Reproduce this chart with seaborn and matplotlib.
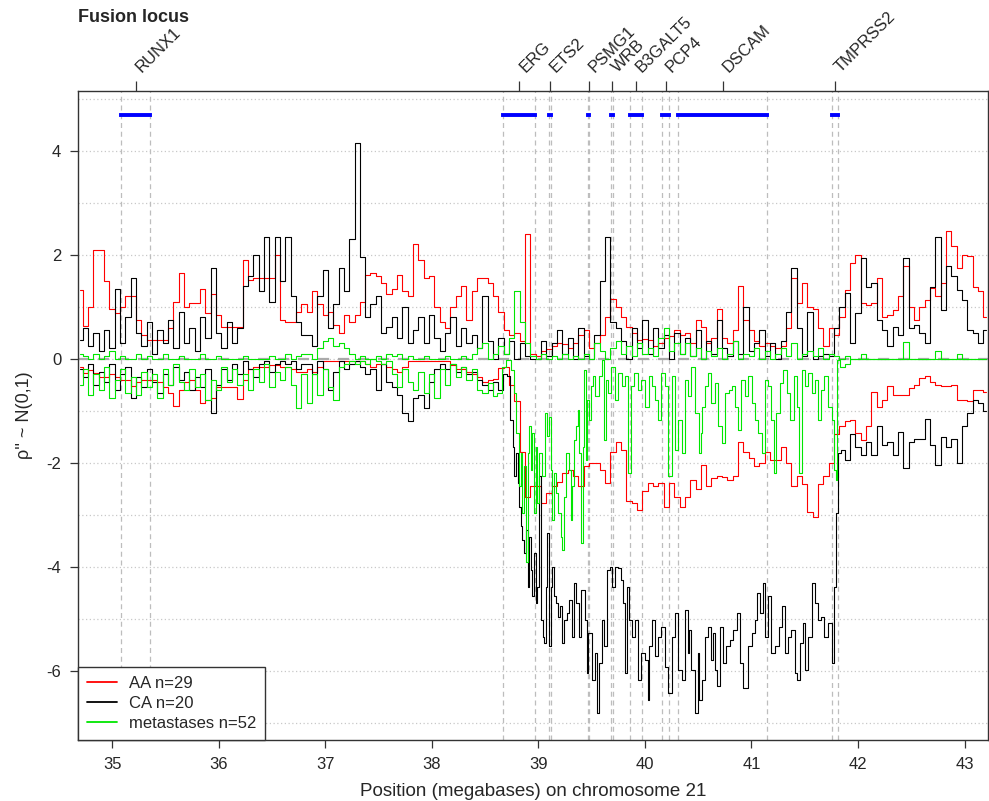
import matplotlib
matplotlib.use("Agg")
import matplotlib.pyplot as plt
import matplotlib.transforms as mtransforms
from matplotlib.lines import Line2D
import seaborn as sns

# Probe positions (Mb, chromosome 21): left flank, fusion region, right flank
left_mb = [
    34.70, 34.75, 34.80, 34.85, 34.90, 34.95, 35.00, 35.05, 35.10, 35.15, 35.20, 35.25, 35.30, 35.35, 35.40,
    35.45, 35.50, 35.55, 35.60, 35.65, 35.70, 35.75, 35.80, 35.85, 35.90, 35.95, 36.00, 36.05, 36.10, 36.15,
    36.20, 36.25, 36.30, 36.35, 36.40, 36.45, 36.50, 36.55, 36.60, 36.65, 36.70, 36.75, 36.80,
    36.85, 36.90, 36.95, 37.00, 37.05, 37.10, 37.15, 37.20, 37.25, 37.30, 37.35, 37.40, 37.45, 37.50, 37.55,
    37.60, 37.65, 37.70, 37.75, 37.80, 37.85, 37.90, 37.95, 38.00, 38.05, 38.10, 38.15, 38.20, 38.25, 38.30,
    38.35, 38.40, 38.45, 38.50,
]
fusion_mb = [
    38.55, 38.60, 38.65, 38.70, 38.75, 38.80, 38.85, 38.90, 38.95, 39.00, 39.05, 39.10, 39.15, 39.20, 39.25,
    39.30, 39.35, 39.40, 39.45, 39.50, 39.55, 39.60, 39.65, 39.70, 39.75, 39.80, 39.85, 39.90, 39.95, 40.00,
    40.05, 40.10, 40.15, 40.20, 40.25, 40.30,
    40.35, 40.40, 40.45, 40.50, 40.55, 40.60, 40.65, 40.70, 40.75, 40.80, 40.85, 40.90, 40.95, 41.00, 41.05,
    41.10, 41.15, 41.20, 41.25, 41.30, 41.35, 41.40, 41.45, 41.50, 41.55, 41.60, 41.65, 41.70, 41.75, 41.80,
]
right_mb = [
    41.85, 41.90, 41.95, 42.00, 42.05, 42.10, 42.15, 42.20, 42.25, 42.30, 42.35, 42.40, 42.45, 42.50, 42.55,
    42.60, 42.65, 42.70, 42.75, 42.80, 42.85, 42.90, 42.95, 43.00, 43.05, 43.10, 43.15, 43.20,
]

# AA tumours: gain and loss traces (on left + fusion + right probes)
aa_gain = [
    1.33, 0.63, 1.0, 2.1, 2.1, 1.5, 0.95, 0.88, 1.0, 1.2, 1.2, 0.75, 0.45, 0.37, 0.37, 0.37, 0.37, 0.6, 1.1,
    1.65, 1.0, 1.08, 1.08, 1.35, 0.88, 1.25, 0.85, 0.62, 0.62, 0.62, 0.62, 1.9, 1.52, 1.55, 1.55, 1.55, 1.55,
    2.0, 0.75, 0.7, 0.7, 0.9, 1.05,
    0.9, 1.3, 1.05, 0.85, 0.9, 0.65, 0.5, 0.85, 0.7, 0.85, 1.1, 1.62, 1.65, 1.6, 1.45, 1.25, 1.35, 1.62, 1.3,
    1.2, 2.2, 1.9, 1.55, 1.6, 1.0, 0.7, 0.6, 1.0, 1.2, 1.4, 0.75, 1.3, 1.55, 1.55,
    1.45, 1.2, 0.9, 0.56, 0.45, 0.5, 0.35, 2.4, 0.1, 0.05, 0.15, 0.18, 0.25, 0.3, 0.28, 0.2, 0.3, 0.45, 0.55,
    0.2, 0.3, 0.45, 0.8, 1.15, 1.0, 0.8, 0.62, 0.5, 0.37, 0.38, 0.37, 0.24, 0.3, 0.4, 0.43, 0.55,
    0.45, 0.5, 0.3, 0.75, 0.62, 0.3, 0.4, 0.95, 0.4, 0.3, 0.55, 1.4, 0.75, 0.55, 0.35, 0.24, 0.3, 0.24, 0.2,
    0.24, 0.6, 1.55, 1.07, 1.45, 1.0, 0.95, 0.6, 0.24, 0.6, 0.45,
    0.81, 1.33, 1.84, 2.0, 1.07, 1.04, 1.07, 1.55, 0.81, 0.85, 0.94, 1.2, 1.78, 1.0, 0.75, 1.0, 1.13, 1.36,
    1.2, 1.46, 2.45, 2.16, 1.74, 2.0, 1.97, 1.39, 1.3, 0.81,
]
aa_loss = [
    -0.15, -0.28, -0.22, -0.28, -0.35, -0.35, -0.3, -0.35, -0.4, -0.4, -0.53, -0.45, -0.4, -0.4, -0.4, -0.45,
    -0.55, -0.65, -0.9, -0.6, -0.45, -0.4, -0.6, -0.85, -0.8, -0.75, -0.55, -0.55, -0.55, -0.55, -0.78, -0.4,
    -0.2, -0.15, -0.15, -0.15, -0.12, -0.12, -0.15, -0.15, -0.2, -0.25, -0.25,
    -0.2, -0.25, -0.15, -0.05, -0.05, -0.05, -0.05, -0.05, -0.05, -0.05, -0.05, -0.1, -0.15, -0.1, -0.1,
    -0.15, -0.2, -0.25, -0.15, -0.05, -0.05, -0.05, -0.05, -0.05, -0.05, -0.05, -0.05, -0.12, -0.2, -0.2,
    -0.25, -0.3, -0.35, -0.45,
    -0.4, -0.38, -0.18, -0.15, -0.5, -0.82, -1.8, -2.65, -2.45, -2.45, -2.78, -2.58, -2.45, -2.36, -2.2,
    -2.13, -2.26, -2.45, -2.07, -2.0, -2.0, -2.13, -2.39, -1.8, -1.59, -1.75, -2.74, -2.78, -2.9, -2.55,
    -2.39, -2.45, -2.39, -2.84, -2.39, -2.65,
    -2.85, -2.65, -2.33, -2.5, -2.05, -2.45, -2.3, -2.25, -2.28, -2.33, -2.25, -1.6, -1.8, -1.9, -2.07,
    -2.0, -1.8, -1.95, -1.95, -1.7, -2.0, -2.45, -2.25, -2.4, -2.95, -3.05, -2.4, -2.25, -2.0, -1.45,
    -1.3, -1.2, -1.17, -1.43, -1.56, -1.3, -0.63, -0.92, -0.79, -0.53, -0.69, -0.69, -0.69, -0.56, -0.5,
    -0.37, -0.34, -0.44, -0.5, -0.53, -0.53, -0.5, -0.79, -0.79, -0.82, -0.6, -0.6, -0.63,
]

# CA tumours: gain trace (left + fusion + right probes)
ca_gain = [
    0.37, 0.6, 0.25, 0.5, 0.15, 0.55, 0.2, 1.35, 0.3, 0.8, 1.55, 0.5, 0.25, 0.7, 0.1, 0.55, 0.3, 0.75, 0.2,
    0.9, 0.3, 0.6, 0.15, 0.8, 0.4, 1.75, 0.5, 0.2, 0.7, 0.3, 0.6, 1.4, 1.6, 2.0, 1.3, 2.35, 1.1, 2.35, 1.5,
    2.35, 1.2, 0.7, 0.45,
    0.45, 0.25, 1.2, 1.7, 0.6, 1.05, 1.75, 1.3, 2.3, 4.15, 1.95, 0.8, 1.05, 1.2, 0.5, 0.62, 0.8, 0.4, 1.0,
    0.3, 0.55, 0.8, 0.3, 0.85, 0.4, 0.15, 0.5, 0.8, 0.25, 0.6, 0.3, 0.45, 0.2, 1.2,
    0.35, 0.0, 0.4, 0.1, 0.35, 0.0, 0.3, 0.05, 0.0, 0.0, 0.35, 0.05, 0.3, 0.55, 0.1, 0.4, 0.0, 0.6, 0.05,
    0.0, 0.45, 1.5, 2.35, 0.7, 0.6, 0.35, 0.0, 0.6, 0.2, 0.75, 0.1, 0.6, 0.2, 0.45, 0.0, 0.5,
    0.1, 0.4, 0.05, 0.55, 0.0, 0.35, 0.1, 0.75, 0.2, 0.05, 0.35, 0.1, 1.0, 0.15, 0.3, 0.55, 0.05, 0.3, 0.0,
    0.35, 0.9, 1.75, 0.6, 0.05, 0.9, 0.0, 0.05, 0.1, 0.05, 0.6,
    1.0, 1.26, 0.3, 0.88, 1.94, 1.39, 1.46, 0.75, 0.56, 0.24, 0.62, 0.45, 1.94, 0.6, 0.65, 0.5, 0.3, 1.39,
    2.35, 0.94, 1.78, 1.6, 1.33, 1.13, 0.56, 0.49, 0.3, 0.56,
]

# CA tumours: loss trace, left flank / densely sampled fusion region / right flank
ca_loss_left = [
    -0.2, -0.35, -0.1, -0.5, -0.25, -0.45, -0.1, -0.6, -0.3, -0.15, -0.75, -0.35, -0.55, -0.2, -0.45, -0.65,
    -0.3, -0.5, -0.15, -0.4, -0.25, -0.6, -0.35, -0.55, -0.2, -1.05, -0.5, -0.2, -0.4, -0.1, -0.3, -0.05,
    -0.2, -0.35, -0.1, -0.05, -0.25, -0.1, -0.05, -0.1, -0.05, -0.2, -0.1,
    -0.1, -0.3, -0.05, -0.2, -0.6, -0.25, -0.05, -0.2, -0.1, -0.05, -0.15, -0.3, -0.2, -0.6, -0.1, -0.45,
    -0.55, -0.7, -1.05, -1.2, -0.75, -0.7, -0.95, -0.45, -0.2, -0.1, -0.2, -0.1, -0.25, -0.15, -0.3, -0.25,
    -0.4, -0.5,
]
ca_loss_fusion_mb = [
    38.55, 38.60, 38.64, 38.70, 38.72, 38.75, 38.77, 38.78, 38.80, 38.81, 38.83, 38.84, 38.86, 38.87, 38.89,
    38.91, 38.92, 38.94, 38.95, 38.97, 38.98, 39.00, 39.02, 39.03, 39.05, 39.06, 39.08, 39.09, 39.11, 39.12,
    39.14, 39.16, 39.17, 39.19, 39.22, 39.23, 39.25, 39.28, 39.30, 39.33, 39.34, 39.37, 39.39, 39.42, 39.45,
    39.46, 39.48, 39.52, 39.55, 39.56, 39.58, 39.61, 39.62, 39.66, 39.69, 39.70, 39.73, 39.77, 39.78, 39.80,
    39.83, 39.84, 39.86, 39.89, 39.92, 39.95, 39.98, 40.02, 40.03, 40.05, 40.08, 40.11, 40.14, 40.17, 40.20,
    40.23, 40.27, 40.30, 40.33, 40.36, 40.39, 40.41, 40.42, 40.45, 40.49, 40.50, 40.52, 40.55, 40.58, 40.61,
    40.63, 40.64, 40.67, 40.69, 40.72, 40.75, 40.78, 40.81, 40.84, 40.88, 40.91, 40.94, 40.99, 41.02, 41.05,
    41.06, 41.10, 41.11, 41.14, 41.17, 41.20, 41.24, 41.27, 41.30, 41.33, 41.36, 41.39, 41.42, 41.44, 41.47,
    41.49, 41.52, 41.55, 41.58, 41.61, 41.64, 41.67, 41.70, 41.74, 41.77, 41.78, 41.80, 41.83,
]
ca_loss_fusion = [
    -0.60, -0.45, -0.60, -0.30, -0.34, -1.17, -1.69, -2.26, -1.81, -2.39, -2.84, -3.22, -3.48, -3.74, -3.29,
    -4.38, -3.42, -4.06, -4.57, -3.74, -4.70, -4.38, -2.26, -5.02, -5.34, -5.47, -4.38, -3.35, -5.53, -4.38,
    -4.00, -4.57, -4.70, -4.96, -4.76, -5.47, -5.02, -4.89, -4.63, -5.34, -4.31, -4.70, -5.34, -4.44, -5.02,
    -6.04, -5.28, -6.17, -5.66, -6.81, -5.85, -5.02, -5.53, -4.06, -4.00, -4.38, -4.00, -4.03, -4.25, -4.70,
    -6.04, -4.38, -5.02, -5.34, -5.02, -6.17, -5.66, -5.79, -6.56, -5.53, -5.02, -5.72, -5.34, -5.15, -5.92,
    -6.43, -5.34, -4.89, -5.98, -6.17, -4.83, -5.66, -5.21, -5.98, -6.81, -5.66, -6.56, -6.17, -5.34, -5.15,
    -5.79, -5.28, -5.98, -6.30, -5.15, -5.85, -5.53, -5.40, -5.21, -4.89, -5.85, -6.33, -5.53, -5.28, -5.02,
    -4.51, -4.89, -4.31, -5.34, -4.57, -5.66, -5.53, -5.15, -4.76, -5.66, -5.34, -5.21, -6.04, -6.17, -5.47,
    -5.08, -5.98, -5.34, -4.31, -4.70, -5.02, -4.96, -5.34, -5.08, -5.85, -4.38, -2.97, -1.81,
]
ca_loss_right = [
    -1.75, -1.95, -1.45, -1.7, -1.85, -1.6, -1.85, -1.3, -1.65, -1.6, -1.85, -1.4, -2.1, -1.6, -1.55, -1.55,
    -1.15, -1.65, -2.05, -1.5, -1.7, -1.55, -2.0, -1.3, -1.05, -0.8, -0.85, -1.0,
]

# Metastases: gain trace (left + fusion + right probes)
met_gain = [
    0.1, 0.05, 0.0, 0.1, 0.0, 0.05, 0.15, 0.0, 0.05, 0.0, 0.0, 0.1, 0.0, 0.05, 0.0, 0.0, 0.1, 0.0, 0.0, 0.05,
    0.0, 0.0, 0.0, 0.1, 0.0, 0.0, 0.05, 0.0, 0.0, 0.0, 0.0, 0.05, 0.0, 0.0, 0.0, 0.0, 0.05, 0.0, 0.0, 0.1,
    0.0, 0.05, 0.1,
    0.1, 0.0, 0.2, 0.35, 0.4, 0.25, 0.3, 0.2, 0.1, 0.0, 0.05, 0.0, 0.0, 0.05, 0.0, 0.1, 0.05, 0.1, 0.0, 0.05,
    0.0, 0.0, 0.05, 0.0, 0.0, 0.0, 0.05, 0.0, 0.0, 0.05, 0.0, 0.1, 0.2, 0.3,
    0.0, 0.1, 0.25, 0.1, 0.4, 1.3, 0.7, 0.3, 0.05, 0.0, 0.1, 0.0, 0.05, 0.0, 0.1, 0.0, 0.05, 0.0, 0.1, 0.0,
    0.3, 0.15, 0.0, 0.2, 0.35, 0.1, 0.25, 0.05, 0.3, 0.1, 0.2, 0.05, 0.4, 0.6, 0.15, 0.3,
    0.1, 0.3, 0.05, 0.2, 0.0, 0.15, 0.05, 0.2, 0.0, 0.1, 0.35, 0.0, 0.1, 0.05, 0.2, 0.0, 0.15, 0.0, 0.1, 0.2,
    0.05, 0.3, 0.0, 0.1, 0.15, 0.05, 0.2, 0.0, 0.1, 0.05,
    0.0, 0.05, 0.0, 0.0, 0.1, 0.0, 0.0, 0.0, 0.0, 0.0, 0.0, 0.0, 0.33, 0.0, 0.0, 0.0, 0.0, 0.0, 0.15, 0.0,
    0.0, 0.0, 0.1, 0.0, 0.0, 0.0, 0.0, 0.0,
]

# Metastases: loss trace, left flank / densely sampled fusion region / right flank
met_loss_left = [
    -0.5, -0.2, -0.7, -0.3, -0.6, -0.15, -0.75, -0.4, -0.2, -0.65, -0.35, -0.7, -0.25, -0.55, -0.3, -0.75,
    -0.2, -0.5, -0.1, -0.45, -0.6, -0.2, -0.55, -0.3, -0.8, -0.4, -0.6, -0.15, -0.45, -0.2, -0.5, -0.3, -0.6,
    -0.2, -0.45, -0.1, -0.55, -0.25, -0.4, -0.15, -0.5, -0.95, -0.3,
    -0.85, -0.3, -0.7, -0.2, -0.55, -0.8, -0.15, -0.1, -0.05, -0.1, -0.05, -0.1, 0.0, -0.05, -0.1, -0.05,
    -0.3, -0.55, -0.2, -0.45, -0.6, -0.25, -0.65, -0.3, -0.75, -0.2, -0.5, -0.1, -0.35, -0.15, -0.4, -0.2,
    -0.6, -0.65,
]
met_loss_fusion_mb = [
    38.55, 38.59, 38.64, 38.67, 38.72, 38.76, 38.78, 38.81, 38.83, 38.84, 38.86, 38.87, 38.89, 38.91, 38.92,
    38.94, 38.95, 38.97, 38.98, 39.00, 39.02, 39.05, 39.08, 39.09, 39.11, 39.12, 39.14, 39.16, 39.17, 39.20,
    39.22, 39.23, 39.25, 39.27, 39.30, 39.31, 39.33, 39.34, 39.36, 39.38, 39.39, 39.41, 39.42, 39.44, 39.45,
    39.47, 39.48, 39.50, 39.52, 39.55, 39.58, 39.61, 39.63, 39.64, 39.67, 39.70, 39.73, 39.77, 39.80, 39.83,
    39.86, 39.88, 39.92, 39.95, 39.98, 40.02, 40.05, 40.08, 40.11, 40.14, 40.17, 40.20, 40.23, 40.27, 40.30,
    40.33, 40.36, 40.39, 40.42, 40.45, 40.49, 40.52, 40.53, 40.55, 40.58, 40.61, 40.64, 40.67, 40.70, 40.74,
    40.77, 40.80, 40.83, 40.86, 40.89, 40.92, 40.95, 40.99, 41.02, 41.05, 41.08, 41.11, 41.14, 41.17, 41.20,
    41.22, 41.25, 41.28, 41.31, 41.35, 41.38, 41.41, 41.44, 41.45, 41.49, 41.52, 41.55, 41.58, 41.61, 41.64,
    41.67, 41.70, 41.74, 41.77, 41.78, 41.80, 41.81,
]
met_loss_fusion = [
    -0.47, -0.72, -0.66, -0.15, -0.02, -0.21, -0.66, -1.43, -2.45, -1.81, -2.97, -2.07, -3.90, -1.81, -1.30,
    -2.13, -1.43, -2.97, -1.69, -2.78, -1.81, -2.26, -1.05, -1.49, -1.11, -2.13, -3.10, -2.20, -2.58, -2.97,
    -3.42, -3.67, -2.65, -1.81, -2.13, -3.10, -2.45, -1.56, -1.30, -0.98, -1.81, -3.54, -1.69, -0.21, -1.94,
    -0.79, -1.17, -0.53, -0.34, -0.72, -0.34, -0.02, -1.56, -0.40, -0.66, -0.15, -0.79, -0.28, -0.53, -0.34,
    -2.20, -0.53, -0.28, -0.60, -0.40, -0.92, -0.34, -0.53, -0.79, -1.17, -0.28, -0.53, -2.26, -0.34, -1.75,
    -1.17, -1.81, -0.40, -0.72, -0.15, -1.05, -1.81, -1.43, -0.92, -0.53, -0.28, -0.85, -0.47, -1.30, -1.62,
    -0.66, -0.60, -0.53, -0.92, -1.36, -0.40, -0.72, -0.34, -0.85, -1.17, -1.43, -1.81, -0.40, -0.53, -1.17,
    -2.20, -1.05, -0.47, -0.21, -0.66, -1.17, -0.34, -0.92, -2.20, -0.21, -0.53, -0.28, -0.66, -0.40, -1.17,
    -0.60, -0.34, -0.92, -1.17, -2.14, -2.33, -0.02,
]
met_loss_right = [
    -0.15, -0.1, 0.0, 0.0, 0.0, 0.0, 0.0, 0.0, 0.0, 0.0, 0.0, 0.0, 0.0, 0.0, 0.0, 0.0, 0.0, 0.0, 0.0, 0.0,
    0.0, 0.0, 0.0, 0.0, 0.0, 0.0, 0.0, 0.0,
]

# Genes in the fusion locus (start / end in Mb)
gene_names = ["RUNX1", "ERG", "ETS2", "PSMG1", "WRB", "B3GALT5", "PCP4", "DSCAM", "TMPRSS2"]
gene_start = [35.08, 38.67, 39.10, 39.47, 39.68, 39.86, 40.16, 40.31, 41.76]
gene_end = [35.36, 38.97, 39.12, 39.48, 39.70, 39.97, 40.23, 41.15, 41.81]

group_labels = ["AA n=29", "CA n=20", "metastases n=52"]
group_colors = ["#ff0000", "#000000", "#00e600"]

probe_mb = left_mb + fusion_mb + right_mb
ca_loss_mb = left_mb + ca_loss_fusion_mb + right_mb
ca_loss = ca_loss_left + ca_loss_fusion + ca_loss_right
met_loss_mb = left_mb + met_loss_fusion_mb + right_mb
met_loss = met_loss_left + met_loss_fusion + met_loss_right

sns.set_style("white")
plt.rcParams["font.family"] = ["Liberation Sans", "DejaVu Sans"]
plt.rcParams["axes.unicode_minus"] = False

W, H = 989, 801
fig = plt.figure(figsize=(W / 100, H / 100), dpi=100)
ax = fig.add_axes([78 / W, 61 / H, 910 / W, 649 / H])

ax.set_xlim(34.68, 43.22)
ax.set_ylim(-7.33, 5.15)

# dotted horizontal grid at each integer
for v in range(-7, 6):
    ax.axhline(v, color="#c8c8c8", ls=(0, (1, 2)), lw=0.9, zorder=0)

# gene boundaries
for s, e in zip(gene_start, gene_end):
    for xv in (s, e):
        ax.axvline(xv, color="#bdbdbd", ls=(0, (4, 3)), lw=0.9, zorder=0.5)

ax.axhline(0, color="#aaaaaa", ls=(0, (5, 4)), lw=1.6, zorder=0.6)

# gene extents as blue bars
bars = ax.hlines([4.69] * len(gene_names), gene_start, gene_end, color="#0000ff", lw=2.8, zorder=3)
bars.set_capstyle("projecting")

series = [
    ((probe_mb, aa_gain), (probe_mb, aa_loss)),
    ((probe_mb, ca_gain), (ca_loss_mb, ca_loss)),
    ((probe_mb, met_gain), (met_loss_mb, met_loss)),
]
for pair, col in zip(series, group_colors):
    for xs, ys in pair:
        sns.lineplot(x=xs, y=ys, ax=ax, color=col, lw=0.8, drawstyle="steps-mid",
                     estimator=None, sort=False, legend=False, zorder=2)

ax.set_xlabel("Position (megabases) on chromosome 21", fontsize=13.5, labelpad=8)
ax.set_ylabel("\u03c1'' ~ N(0,1)", fontsize=13, labelpad=10)

ax.set_xticks([35, 36, 37, 38, 39, 40, 41, 42, 43])
ax.set_yticks([-6, -4, -2, 0, 2, 4])
ax.tick_params(axis="both", direction="out", length=6, width=0.9, color="#333333",
               labelsize=12, pad=6, bottom=True, left=True)
for sp in ax.spines.values():
    sp.set_color("#333333")
    sp.set_linewidth(1.0)

# gene tick marks along the top, with slanted names
mids = [(s + e) / 2 for s, e in zip(gene_start, gene_end)]
top = ax.twiny()
top.set_xlim(ax.get_xlim())
top.set_xticks(mids)
top.set_xticklabels([])
top.tick_params(axis="x", direction="out", length=7.5, width=0.9, color="#333333")
for sp in top.spines.values():
    sp.set_visible(False)

blend = mtransforms.blended_transform_factory(ax.transData, ax.transAxes)
label_tr = mtransforms.offset_copy(blend, fig=fig, x=6, y=18, units="dots")
for name, m in zip(gene_names, mids):
    ax.text(m, 1.0, name, transform=label_tr, rotation=45, rotation_mode="anchor",
            ha="left", va="baseline", fontsize=12, clip_on=False)

handles = [Line2D([], [], color=c, lw=1.3) for c in group_colors]
leg = ax.legend(handles, group_labels, loc="lower left", borderaxespad=0, fancybox=False,
                edgecolor="#333333", framealpha=1, fontsize=12, handlelength=1.8,
                handletextpad=0.7, labelspacing=0.3, borderpad=0.55)
leg.get_frame().set_linewidth(1.0)
leg.set_zorder(5)

fig.text(78 / W, 1 - 18 / H, "Fusion locus", fontsize=13, fontweight="bold", ha="left", va="center")

fig.savefig("out.png", dpi=100)
